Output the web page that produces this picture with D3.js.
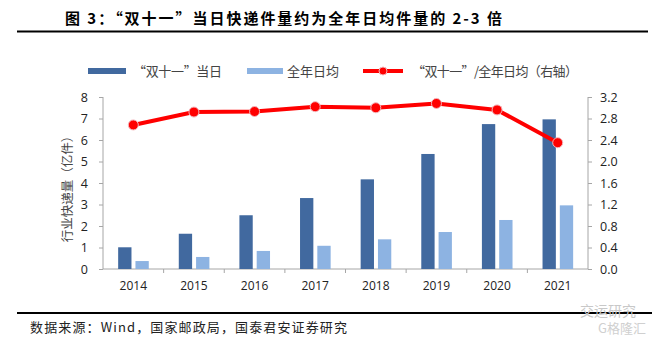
<!DOCTYPE html>
<html><head><meta charset="utf-8">
<script src="https://cdn.jsdelivr.net/npm/d3@7/dist/d3.min.js"></script>
<style>
html,body{margin:0;padding:0;background:#fff;}
svg{display:block;}
text{font-family:"Open Sans","Noto Sans CJK SC",sans-serif;}
.cjk{font-family:"Noto Sans CJK SC",sans-serif;}
</style></head>
<body>
<svg id="c" width="660" height="340"></svg>
<script>
const years = ["2014","2015","2016","2017","2018","2019","2020","2021"];
const dayValues = [1.01, 1.64, 2.50, 3.30, 4.17, 5.35, 6.74, 6.96];
const avgValues = [0.37, 0.56, 0.84, 1.08, 1.38, 1.72, 2.28, 2.96];
const ratioValues = [2.68, 2.92, 2.93, 3.02, 3.00, 3.08, 2.96, 2.35];
const leftTicks = [0,1,2,3,4,5,6,7,8];
const rightTicks = [0,0.4,0.8,1.2,1.6,2.0,2.4,2.8,3.2];
const seriesNames = ["“双十一”当日","全年日均","“双十一”/全年日均（右轴）"];
const titleText = "图 3：“双十一”当日快递件量约为全年日均件量的 2-3 倍";
const sourceText = "数据来源：Wind，国家邮政局，国泰君安证券研究";
const yAxisTitle = "行业快递量（亿件）";

const C_DARK = "#41699f", C_LIGHT = "#8db3e2", C_RED = "#ff0000", C_AXIS = "#a6a6a6";
const svg = d3.select("#c");

// title + rules
svg.append("text").attr("class","cjk").attr("x",65).attr("y",24)
  .attr("font-size",15).attr("font-weight","bold").attr("fill","#000")
  .attr("textLength",437).attr("lengthAdjust","spacing").text(titleText);
svg.append("line").attr("x1",17).attr("x2",648).attr("y1",31.5).attr("y2",31.5)
  .attr("stroke","#000").attr("stroke-width",2);
svg.append("line").attr("x1",17).attr("x2",652).attr("y1",313).attr("y2",313)
  .attr("stroke","#000").attr("stroke-width",2);
svg.append("text").attr("class","cjk").attr("x",30).attr("y",332)
  .attr("font-size",13).attr("fill","#222")
  .attr("textLength",317).attr("lengthAdjust","spacing").text(sourceText);

// scales
const x = d3.scaleBand().domain(years).range([103,588]).padding(0);
const bw = x.bandwidth();
const x1 = d3.scaleBand().domain([0,1]).range([bw*0.25, bw*0.755]).paddingInner(0.23);
const yL = d3.scaleLinear().domain([0,8]).range([269,97]);
const yR = d3.scaleLinear().domain([0,3.2]).range([269,97]);

// axes
const gL = svg.append("g").attr("transform","translate(103,0)")
  .call(d3.axisLeft(yL).tickValues(leftTicks).tickSize(4).tickPadding(11).tickFormat(d3.format("d")));
const gR = svg.append("g").attr("transform","translate(588,0)")
  .call(d3.axisRight(yR).tickValues(rightTicks).tickSize(4).tickPadding(8).tickFormat(d3.format(".1f")));
const gX = svg.append("g").attr("transform","translate(0,269)")
  .call(d3.axisBottom(x).tickSize(0).tickPadding(12));
// category separators on x axis
gX.selectAll(".sep").data(years.slice(1)).enter().append("line").attr("class","sep")
  .attr("x1",d=>x(d)).attr("x2",d=>x(d)).attr("y1",0).attr("y2",4).attr("stroke",C_AXIS);
[gL,gR,gX].forEach(g=>{
  g.selectAll(".domain").attr("stroke",C_AXIS);
  g.selectAll(".tick line").attr("stroke",C_AXIS);
  g.selectAll(".tick text").attr("font-size",12.5).attr("fill","#222").attr("font-family","Open Sans, sans-serif");
});
gL.select(".domain").attr("d","M0,97V269");
gR.select(".domain").attr("d","M0,97V269");
gX.select(".domain").attr("d","M103,0H588");
gX.selectAll(".tick text").attr("font-size",12);

// y-axis title
svg.append("text").attr("class","cjk").attr("transform","translate(72,186) rotate(-90)")
  .attr("text-anchor","middle").attr("font-size",12.5).attr("fill","#444").text(yAxisTitle);

// bars
const gB = svg.append("g");
gB.selectAll(".d").data(dayValues).enter().append("rect")
  .attr("x",(d,i)=>x(years[i])+x1(0)).attr("width",x1.bandwidth())
  .attr("y",d=>yL(d)).attr("height",d=>yL(0)-yL(d)).attr("fill",C_DARK);
gB.selectAll(".l").data(avgValues).enter().append("rect")
  .attr("x",(d,i)=>x(years[i])+x1(1)).attr("width",x1.bandwidth())
  .attr("y",d=>yL(d)).attr("height",d=>yL(0)-yL(d)).attr("fill",C_LIGHT);

// line
const line = d3.line().x((d,i)=>x(years[i])+bw/2).y(d=>yR(d));
svg.append("path").datum(ratioValues).attr("d",line).attr("fill","none")
  .attr("stroke",C_RED).attr("stroke-width",4).attr("stroke-linejoin","round");
svg.selectAll(".pt").data(ratioValues).enter().append("circle")
  .attr("cx",(d,i)=>x(years[i])+bw/2).attr("cy",d=>yR(d)).attr("r",5)
  .attr("fill",C_RED).attr("stroke","#f3b6bc").attr("stroke-width",1);

// legend
const lg = svg.append("g");
lg.append("rect").attr("x",88).attr("y",68).attr("width",38).attr("height",6).attr("fill",C_DARK);
lg.append("text").attr("class","cjk").attr("x",133).attr("y",75.5).attr("font-size",13).attr("fill","#444")
  .attr("textLength",89).attr("lengthAdjust","spacing").text(seriesNames[0]);
lg.append("rect").attr("x",247).attr("y",68).attr("width",36).attr("height",6).attr("fill",C_LIGHT);
lg.append("text").attr("class","cjk").attr("x",287).attr("y",75.5).attr("font-size",13).attr("fill","#444")
  .text(seriesNames[1]);
lg.append("line").attr("x1",363).attr("x2",403).attr("y1",71).attr("y2",71)
  .attr("stroke",C_RED).attr("stroke-width",4);
lg.append("circle").attr("cx",383).attr("cy",71).attr("r",4).attr("fill",C_RED)
  .attr("stroke","#f3b6bc").attr("stroke-width",1);
lg.append("text").attr("class","cjk").attr("x",412).attr("y",75.5).attr("font-size",13).attr("fill","#444")
  .attr("textLength",166).attr("lengthAdjust","spacing").text(seriesNames[2]);

// watermark
svg.append("text").attr("class","cjk").attr("x",580).attr("y",316).attr("font-size",14)
  .attr("fill","#c8c8c8").text("交运研究");
svg.append("text").attr("class","cjk").attr("x",598).attr("y",333).attr("font-size",13)
  .attr("fill","#d0d0d0").text("G格隆汇");
</script>
</body></html>
